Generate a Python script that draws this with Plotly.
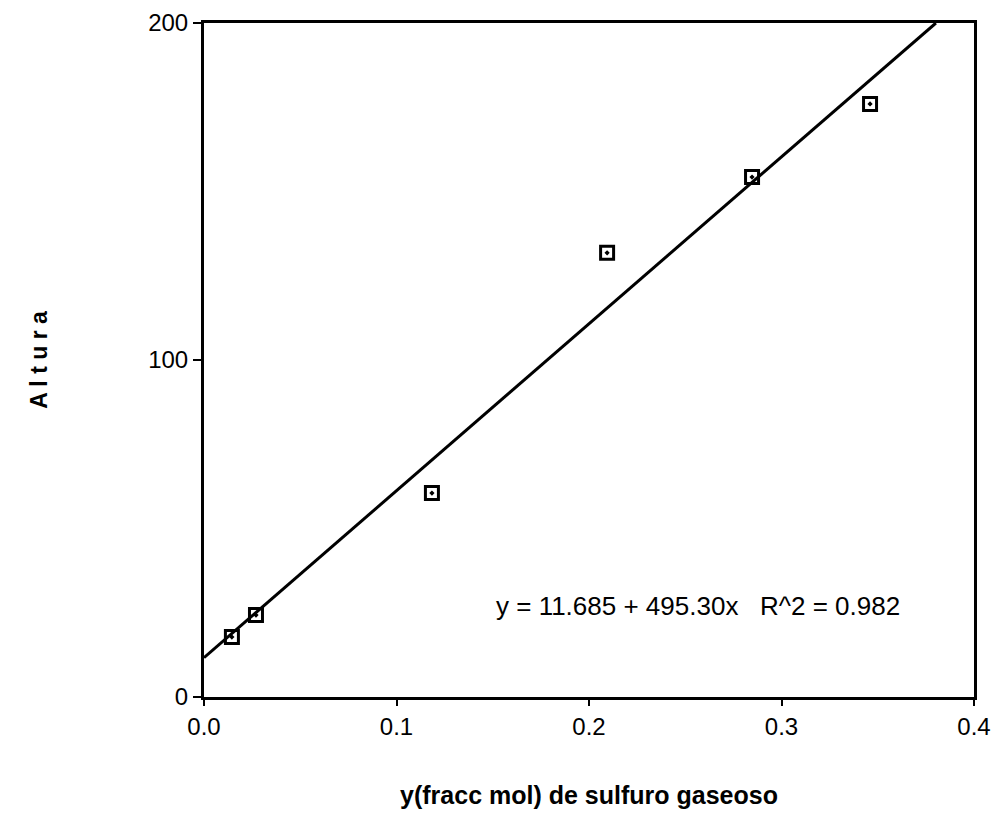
import plotly.graph_objects as go

x_vals = [0.0145, 0.027, 0.1184, 0.2094, 0.2847, 0.346]
y_vals = [17.8, 24.3, 60.5, 131.8, 154.3, 176.0]
intercept = 11.685
slope = 495.30
fit_x = [0.0, (200 - intercept) / slope]
fit_y = [intercept + slope * v for v in fit_x]
x_ticks = [0.0, 0.1, 0.2, 0.3, 0.4]
x_tick_text = ["0.0", "0.1", "0.2", "0.3", "0.4"]
y_ticks = [0, 100, 200]

fig = go.Figure()
fig.add_trace(go.Scatter(x=fit_x, y=fit_y, mode="lines",
                         line=dict(color="black", width=3), showlegend=False))
fig.add_trace(go.Scatter(x=x_vals, y=y_vals, mode="markers",
                         marker=dict(symbol="square-open-dot", size=13, color="black",
                                     line=dict(color="black", width=3)),
                         showlegend=False))

fig.add_annotation(x=0.2565, y=27, xref="x", yref="y",
                   text="y = 11.685 + 495.30x   R^2 = 0.982",
                   showarrow=False, font=dict(family="Liberation Sans, Arial", size=26, color="black"))

fig.update_layout(
    width=992, height=828,
    margin=dict(l=204, r=18, t=23, b=131, autoexpand=False),
    paper_bgcolor="white", plot_bgcolor="white",
    font=dict(family="Liberation Sans, Arial", size=24, color="black"),
    xaxis=dict(range=[0, 0.4], tickvals=x_ticks, ticktext=x_tick_text, automargin=False,
               showgrid=False, zeroline=False, showline=True, linecolor="black",
               linewidth=3, mirror=True, ticks="outside", ticklen=6, tickwidth=2,
               tickcolor="black",
               title=dict(text="<b>y(fracc mol) de sulfuro gaseoso</b>", standoff=48,
                          font=dict(size=25))),
    yaxis=dict(range=[0, 200], tickvals=y_ticks, automargin=False,
               showgrid=False, zeroline=False, showline=True, linecolor="black",
               linewidth=3, mirror=True, ticks="outside", ticklen=8, tickwidth=2,
               tickcolor="black",
               title=dict(text="<b>A l t u r a</b>", standoff=95, font=dict(size=23))),
)

fig.write_html("out.html", config={"displayModeBar": False},
               post_script="document.body.style.margin='0px';document.body.style.overflow='hidden';")
